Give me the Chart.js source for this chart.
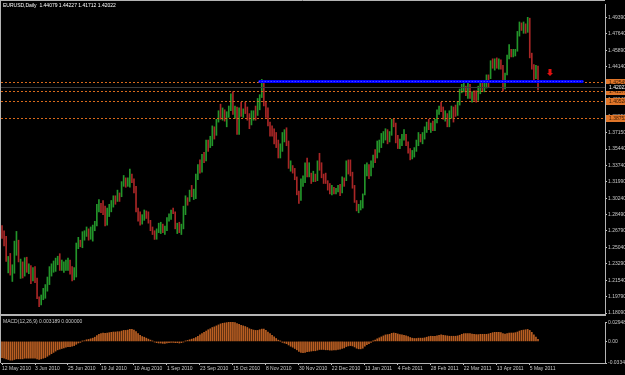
<!DOCTYPE html>
<html>
<head>
<meta charset="utf-8">
<script src="https://cdn.jsdelivr.net/npm/chart.js@4.4.1/dist/chart.umd.min.js"></script>
<style>
  html, body { margin: 0; padding: 0; background: #000; }
  #wrap { position: relative; width: 625px; height: 375px; overflow: hidden; background: #000; }
  canvas { position: absolute; left: 0; }
  #main { top: 0; }
  #macd { top: 318px; }
</style>
</head>
<body>
<div id="wrap">
  <canvas id="main" width="625" height="318"></canvas>
  <canvas id="macd" width="625" height="57"></canvas>
</div>
<script>
// EURUSD daily, 12 May 2010 .. 11 May 2011 (one entry per bar)
const highs = [
  1.2734,1.2680,1.2620,1.2408,1.2440,1.2320,1.2570,1.2673,1.2580,1.2380,
  1.2350,1.2395,1.2400,1.2330,1.2310,1.2290,1.2300,1.2180,1.1980,1.2000,
  1.2070,1.2110,1.2190,1.2300,1.2330,1.2360,1.2390,1.2410,1.2437,1.2370,
  1.2350,1.2370,1.2390,1.2370,1.2300,1.2290,1.2550,1.2610,1.2580,1.2670,
  1.2680,1.2720,1.2700,1.2720,1.2740,1.2780,1.2960,1.3010,1.2970,1.3000,
  1.2940,1.2920,1.2960,1.3000,1.3050,1.3050,1.3110,1.3080,1.3200,1.3265,
  1.3240,1.3240,1.3333,1.3280,1.3230,1.3150,1.2920,1.2880,1.2850,1.2900,
  1.2890,1.2880,1.2790,1.2720,1.2680,1.2700,1.2760,1.2770,1.2750,1.2730,
  1.2820,1.2860,1.2900,1.2920,1.2880,1.2760,1.2770,1.2750,1.2940,1.3050,
  1.3030,1.3110,1.3160,1.3120,1.3280,1.3380,1.3430,1.3490,1.3510,1.3640,
  1.3640,1.3680,1.3790,1.3780,1.3860,1.3950,1.4020,1.3980,1.3960,1.3940,
  1.4000,1.4130,1.4150,1.4000,1.3990,1.3980,1.4040,1.3970,1.4040,1.3990,
  1.3920,1.3950,1.3950,1.4000,1.4080,1.4120,1.4282,1.4240,1.4040,1.3980,
  1.3830,1.3790,1.3760,1.3720,1.3640,1.3600,1.3720,1.3750,1.3770,1.3630,
  1.3420,1.3370,1.3340,1.3250,1.3100,1.3230,1.3260,1.3400,1.3450,1.3400,
  1.3290,1.3310,1.3280,1.3420,1.3500,1.3400,1.3280,1.3290,1.3210,1.3180,
  1.3160,1.3140,1.3130,1.3160,1.3170,1.3250,1.3240,1.3420,1.3430,1.3430,
  1.3300,1.3160,1.3000,1.2960,1.3000,1.3070,1.3380,1.3400,1.3380,1.3420,
  1.3480,1.3540,1.3630,1.3640,1.3710,1.3730,1.3760,1.3750,1.3730,1.3860,
  1.3860,1.3820,1.3690,1.3650,1.3700,1.3750,1.3700,1.3620,1.3550,1.3530,
  1.3560,1.3640,1.3720,1.3700,1.3720,1.3780,1.3830,1.3860,1.3820,1.3840,
  1.3860,1.3960,1.4000,1.4040,1.3990,1.3950,1.3920,1.3950,1.4000,1.3990,
  1.4010,1.4050,1.4180,1.4230,1.4250,1.4210,1.4250,1.4230,1.4150,1.4160,
  1.4160,1.4210,1.4250,1.4250,1.4260,1.4330,1.4330,1.4480,1.4500,1.4500,
  1.4510,1.4500,1.4490,1.4430,1.4350,1.4540,1.4650,1.4600,1.4600,1.4600,
  1.4790,1.4890,1.4880,1.4890,1.4870,1.4939,1.4930,1.4560,1.4440,1.4430,
  1.44227
];
const lows = [
  1.2598,1.2520,1.2356,1.2234,1.2210,1.2143,1.2230,1.2420,1.2350,1.2175,
  1.2180,1.2200,1.2240,1.2225,1.2120,1.2150,1.2130,1.1960,1.1876,1.1895,
  1.1950,1.1965,1.2040,1.2110,1.2200,1.2240,1.2250,1.2320,1.2260,1.2260,
  1.2240,1.2260,1.2260,1.2220,1.2150,1.2160,1.2190,1.2490,1.2510,1.2500,
  1.2580,1.2620,1.2580,1.2590,1.2570,1.2680,1.2730,1.2880,1.2870,1.2850,
  1.2730,1.2740,1.2830,1.2880,1.2930,1.2960,1.2990,1.2990,1.3040,1.3150,
  1.3140,1.3150,1.3140,1.3190,1.3080,1.2880,1.2780,1.2740,1.2750,1.2790,
  1.2810,1.2760,1.2680,1.2640,1.2588,1.2590,1.2660,1.2650,1.2660,1.2640,
  1.2680,1.2780,1.2800,1.2860,1.2700,1.2650,1.2660,1.2640,1.2700,1.2850,
  1.2950,1.2990,1.3040,1.3010,1.3020,1.3220,1.3290,1.3300,1.3400,1.3420,
  1.3520,1.3560,1.3580,1.3650,1.3690,1.3830,1.3860,1.3850,1.3840,1.3780,
  1.3880,1.3950,1.3910,1.3870,1.3700,1.3700,1.3890,1.3880,1.3920,1.3850,
  1.3760,1.3800,1.3850,1.3850,1.3900,1.3960,1.4090,1.4000,1.3880,1.3790,
  1.3680,1.3680,1.3600,1.3560,1.3450,1.3450,1.3520,1.3620,1.3580,1.3340,
  1.3310,1.3290,1.3220,1.3060,1.2968,1.3000,1.3150,1.3190,1.3250,1.3250,
  1.3180,1.3200,1.3200,1.3210,1.3320,1.3240,1.3180,1.3180,1.3110,1.3070,
  1.3060,1.3070,1.3070,1.3090,1.3050,1.3080,1.3150,1.3210,1.3280,1.3260,
  1.3130,1.2980,1.2890,1.2870,1.2900,1.2920,1.3060,1.3260,1.3230,1.3260,
  1.3350,1.3400,1.3450,1.3510,1.3560,1.3610,1.3640,1.3600,1.3620,1.3690,
  1.3780,1.3610,1.3550,1.3550,1.3580,1.3640,1.3580,1.3500,1.3430,1.3440,
  1.3460,1.3520,1.3580,1.3620,1.3600,1.3650,1.3720,1.3750,1.3720,1.3740,
  1.3740,1.3820,1.3910,1.3940,1.3860,1.3840,1.3780,1.3780,1.3870,1.3830,
  1.3890,1.3900,1.4010,1.4140,1.4150,1.4110,1.4080,1.4080,1.4040,1.4060,
  1.4040,1.4060,1.4130,1.4160,1.4150,1.4190,1.4200,1.4290,1.4400,1.4380,
  1.4400,1.4390,1.4390,1.4160,1.4180,1.4330,1.4500,1.4520,1.4520,1.4530,
  1.4580,1.4740,1.4800,1.4770,1.4770,1.4780,1.4510,1.4390,1.4260,1.4290,
  1.41712
];
const closes = [
  1.2640,1.2580,1.2360,1.2370,1.2225,1.2240,1.2490,1.2570,1.2355,1.2365,
  1.2210,1.2370,1.2270,1.2290,1.2225,1.2235,1.2160,1.1970,1.1930,1.1980,
  1.1995,1.2090,1.2110,1.2290,1.2310,1.2340,1.2380,1.2390,1.2280,1.2300,
  1.2320,1.2330,1.2380,1.2230,1.2200,1.2250,1.2520,1.2560,1.2530,1.2640,
  1.2650,1.2700,1.2640,1.2660,1.2730,1.2760,1.2940,1.2950,1.2920,1.2890,
  1.2750,1.2900,1.2930,1.2990,1.3030,1.2990,1.3080,1.3050,1.3180,1.3225,
  1.3160,1.3190,1.3280,1.3225,1.3150,1.2900,1.2810,1.2760,1.2810,1.2860,
  1.2840,1.2780,1.2700,1.2660,1.2620,1.2660,1.2720,1.2750,1.2680,1.2690,
  1.2810,1.2820,1.2890,1.2880,1.2720,1.2730,1.2690,1.2710,1.2920,1.3030,
  1.2990,1.3080,1.3050,1.3090,1.3260,1.3370,1.3310,1.3480,1.3460,1.3620,
  1.3610,1.3630,1.3770,1.3680,1.3850,1.3930,1.3880,1.3950,1.3900,1.3920,
  1.3990,1.4110,1.3960,1.3975,1.3720,1.3960,1.3920,1.3950,1.3930,1.3870,
  1.3790,1.3930,1.3940,1.3880,1.4060,1.4090,1.4210,1.4030,1.3920,1.3800,
  1.3760,1.3710,1.3700,1.3590,1.3490,1.3540,1.3670,1.3680,1.3620,1.3370,
  1.3380,1.3330,1.3240,1.3080,1.3010,1.3200,1.3240,1.3390,1.3260,1.3290,
  1.3240,1.3250,1.3230,1.3400,1.3380,1.3250,1.3230,1.3200,1.3130,1.3090,
  1.3110,1.3100,1.3120,1.3140,1.3090,1.3230,1.3200,1.3380,1.3350,1.3310,
  1.3140,1.3000,1.2910,1.2950,1.2970,1.3060,1.3360,1.3380,1.3300,1.3400,
  1.3460,1.3450,1.3610,1.3620,1.3690,1.3710,1.3740,1.3610,1.3700,1.3840,
  1.3810,1.3640,1.3580,1.3610,1.3680,1.3700,1.3600,1.3530,1.3480,1.3490,
  1.3540,1.3610,1.3700,1.3660,1.3680,1.3760,1.3800,1.3760,1.3800,1.3750,
  1.3840,1.3940,1.3990,1.3970,1.3890,1.3920,1.3800,1.3900,1.3980,1.3970,
  1.3920,1.4030,1.4170,1.4180,1.4220,1.4140,1.4220,1.4100,1.4140,1.4130,
  1.4090,1.4170,1.4230,1.4200,1.4230,1.4310,1.4250,1.4470,1.4420,1.4470,
  1.4440,1.4480,1.4430,1.4230,1.4330,1.4520,1.4620,1.4570,1.4580,1.4590,
  1.4780,1.4870,1.4810,1.4840,1.4820,1.4860,1.4530,1.4400,1.4350,1.4408,
  1.42022
];
const firstOpen = 1.2690;

// MACD(12,26,9) histogram, one value per bar
const macdValues = [
  -0.0250,-0.0260,-0.0270,-0.0280,-0.0290,-0.0290,-0.0280,-0.0270,-0.0270,-0.0270,
  -0.0270,-0.0260,-0.0260,-0.0260,-0.0260,-0.0260,-0.0260,-0.0270,-0.0280,-0.0270,
  -0.0260,-0.0250,-0.0230,-0.0210,-0.0190,-0.0170,-0.0150,-0.0130,-0.0120,-0.0110,
  -0.0100,-0.0090,-0.0080,-0.0080,-0.0075,-0.0065,-0.0045,-0.0025,-0.0015,0.0003,
  0.0010,0.0025,0.0030,0.0040,0.0050,0.0065,0.0090,0.0110,0.0120,0.0130,
  0.0125,0.0130,0.0135,0.0140,0.0145,0.0145,0.0150,0.0150,0.0160,0.0170,
  0.0170,0.0175,0.0185,0.0185,0.0175,0.0150,0.0120,0.0095,0.0075,0.0065,
  0.0050,0.0035,0.0020,0.0005,-0.0010,-0.0020,-0.0025,-0.0025,-0.0030,-0.0030,
  -0.0025,-0.0020,-0.0015,-0.0015,-0.0020,-0.0020,-0.0025,-0.0020,-0.0010,0.0005,
  0.0015,0.0025,0.0035,0.0045,0.0060,0.0080,0.0100,0.0120,0.0140,0.0160,
  0.0180,0.0195,0.0215,0.0225,0.0240,0.0255,0.0270,0.0280,0.0285,0.0290,
  0.0295,0.0300,0.0295,0.0290,0.0275,0.0265,0.0250,0.0240,0.0230,0.0215,
  0.0195,0.0185,0.0175,0.0170,0.0170,0.0180,0.0190,0.0190,0.0170,0.0145,
  0.0120,0.0095,0.0070,0.0045,0.0020,0.0003,-0.0015,-0.0025,-0.0035,-0.0055,
  -0.0075,-0.0090,-0.0110,-0.0130,-0.0155,-0.0170,-0.0175,-0.0170,-0.0160,-0.0155,
  -0.0150,-0.0145,-0.0145,-0.0135,-0.0125,-0.0125,-0.0125,-0.0130,-0.0130,-0.0135,
  -0.0135,-0.0130,-0.0130,-0.0125,-0.0120,-0.0110,-0.0100,-0.0080,-0.0070,-0.0065,
  -0.0070,-0.0085,-0.0105,-0.0115,-0.0115,-0.0105,-0.0075,-0.0050,-0.0035,-0.0015,
  0.0005,0.0020,0.0040,0.0055,0.0070,0.0085,0.0100,0.0105,0.0110,0.0125,
  0.0130,0.0125,0.0115,0.0105,0.0100,0.0095,0.0085,0.0075,0.0060,0.0050,
  0.0045,0.0045,0.0050,0.0050,0.0050,0.0055,0.0065,0.0075,0.0080,0.0080,
  0.0080,0.0085,0.0095,0.0100,0.0095,0.0090,0.0085,0.0080,0.0080,0.0080,
  0.0080,0.0085,0.0095,0.0110,0.0120,0.0120,0.0120,0.0120,0.0115,0.0110,
  0.0105,0.0105,0.0110,0.0110,0.0110,0.0110,0.0115,0.0125,0.0135,0.0140,
  0.0140,0.0140,0.0135,0.0120,0.0115,0.0120,0.0130,0.0130,0.0130,0.0135,
  0.0145,0.0160,0.0170,0.0175,0.0180,0.0185,0.0170,0.0140,0.0100,0.0065,
  0.003189
];

const dateTicks = ['12 May 2010', '3 Jun 2010', '25 Jun 2010', '19 Jul 2010', '10 Aug 2010',
  '1 Sep 2010', '23 Sep 2010', '15 Oct 2010', '8 Nov 2010', '30 Nov 2010', '22 Dec 2010',
  '13 Jan 2011', '4 Feb 2011', '28 Feb 2011', '22 Mar 2011', '13 Apr 2011', '5 May 2011'];
const barsPerDateTick = 16;
const slotCount = 293; // bars + empty shift on the right

const priceTicks = [1.49390, 1.47640, 1.45890, 1.44140, 1.42390, 1.40640, 1.38890, 1.37150,
  1.35440, 1.33740, 1.31990, 1.30240, 1.28490, 1.26790, 1.25040, 1.23290, 1.21540, 1.19790, 1.18090];
const macdTicks = [0.02948, 0, -0.03341];

const levelPrices = [1.42545, 1.41573, 1.40528, 1.38752];
const bidPrice = 1.42022;
const trendPrice = 1.4260, trendFrom = 124.5, trendTo = 282;
const arrowIndex = 266, arrowPrice = 1.4345;

const title = 'EURUSD,Daily  1.44079 1.44227 1.41712 1.42022';
const macdTitle = 'MACD(12,26,9) 0.003189 0.000000';

const upColor = '#23952a', downColor = '#a82626';
const levelColor = '#d86a1c', textColor = '#c8c8c8', frameColor = '#b4b4b4';
const FONT = 'Liberation Sans';

Chart.defaults.font.family = FONT;
Chart.defaults.font.size = 5;

const slots = Array.from({ length: slotCount }, (_, i) => i);
const barColors = closes.map((c, i) => c >= (i ? closes[i - 1] : firstOpen) ? upColor : downColor);

function hline(ctx, x1, y, x2) {
  ctx.beginPath(); ctx.moveTo(x1, y); ctx.lineTo(x2, y); ctx.stroke();
}

const mainOverlay = {
  id: 'mainOverlay',
  afterDraw(chart) {
    const { ctx, chartArea: a, scales: { x, y } } = chart;
    ctx.save();
    // bid line
    ctx.lineWidth = 1;
    ctx.strokeStyle = '#3a3a3a';
    hline(ctx, a.left, Math.round(y.getPixelForValue(bidPrice)) + 0.5, a.right);
    // order levels
    ctx.setLineDash([2, 2]);
    ctx.strokeStyle = levelColor;
    levelPrices.forEach(p => hline(ctx, a.left, Math.round(y.getPixelForValue(p)) + 0.5, a.right));
    ctx.setLineDash([]);
    // horizontal trend line
    const ty = Math.round(y.getPixelForValue(trendPrice)) + 0.5;
    ctx.strokeStyle = '#0000ff';
    ctx.lineWidth = 3;
    hline(ctx, x.getPixelForValue(trendFrom), ty, x.getPixelForValue(trendTo));
    ctx.lineWidth = 1;
    ctx.setLineDash([1, 2]);
    ctx.strokeStyle = '#6a6aff';
    hline(ctx, x.getPixelForValue(trendFrom), ty, x.getPixelForValue(trendTo));
    ctx.setLineDash([]);
    // sell arrow
    const ax = Math.round(x.getPixelForValue(arrowIndex)), ay = Math.round(y.getPixelForValue(arrowPrice));
    ctx.fillStyle = '#e01010';
    ctx.beginPath();
    ctx.moveTo(ax - 1.5, ay - 4); ctx.lineTo(ax + 1.5, ay - 4); ctx.lineTo(ax + 1.5, ay);
    ctx.lineTo(ax + 3, ay); ctx.lineTo(ax, ay + 3); ctx.lineTo(ax - 3, ay); ctx.lineTo(ax - 1.5, ay);
    ctx.closePath(); ctx.fill();
    // frame
    ctx.strokeStyle = frameColor;
    hline(ctx, 0, 0.5, a.right);
    ctx.beginPath(); ctx.moveTo(0.5, 0); ctx.lineTo(0.5, 318); ctx.stroke();
    ctx.lineWidth = 2;
    hline(ctx, 0, a.bottom + 1, a.right + 1);
    ctx.lineWidth = 1;
    // price boxes on the axis
    ctx.font = '5px ' + FONT;
    ctx.textBaseline = 'middle';
    ctx.textAlign = 'left';
    levelPrices.forEach(p => {
      const yy = Math.round(y.getPixelForValue(p));
      ctx.fillStyle = '#e0762a';
      ctx.fillRect(a.right + 1, yy - 3, 625 - a.right, 7);
      ctx.fillStyle = '#3a1a00';
      ctx.fillText(p.toFixed(5), a.right + 4, yy + 0.5);
    });
    const by = Math.round(y.getPixelForValue(bidPrice));
    ctx.fillStyle = '#000';
    ctx.fillRect(a.right + 1, by - 3, 625 - a.right, 7);
    ctx.fillStyle = '#ffffff';
    ctx.fillText(bidPrice.toFixed(5), a.right + 4, by + 0.5);
    // title
    ctx.fillStyle = '#ffffff';
    ctx.fillText(title, 3, 5.5);
    ctx.restore();
  }
};

new Chart(document.getElementById('main'), {
  type: 'bar',
  data: {
    labels: slots,
    datasets: [{
      data: highs.map((h, i) => [lows[i], h]),
      backgroundColor: barColors,
      borderWidth: 0,
      barThickness: 1
    }]
  },
  options: {
    responsive: false,
    animation: false,
    events: [],
    devicePixelRatio: 1,
    layout: { padding: { top: 2, bottom: 2, left: 1, right: 0 } },
    plugins: { legend: { display: false }, tooltip: { enabled: false } },
    scales: {
      x: { display: false },
      y: {
        position: 'right',
        min: 1.17987,
        max: 1.50801,
        afterFit: s => { s.width = 20; },
        afterBuildTicks: s => { s.ticks = priceTicks.map(v => ({ value: v })); },
        grid: { drawOnChartArea: false, tickLength: 2, tickColor: textColor },
        border: { color: frameColor },
        ticks: { color: textColor, padding: 1, font: { size: 5 }, callback: v => v.toFixed(5) }
      }
    }
  },
  plugins: [mainOverlay]
});

const macdOverlay = {
  id: 'macdOverlay',
  afterDraw(chart) {
    const { ctx, chartArea: a } = chart;
    ctx.save();
    ctx.strokeStyle = frameColor;
    ctx.lineWidth = 1;
    ctx.beginPath(); ctx.moveTo(0.5, 0); ctx.lineTo(0.5, a.bottom); ctx.stroke();
    ctx.font = '5px ' + FONT;
    ctx.textBaseline = 'middle';
    ctx.fillStyle = textColor;
    ctx.fillText(macdTitle, 3, 4);
    ctx.restore();
  }
};

new Chart(document.getElementById('macd'), {
  type: 'bar',
  data: {
    labels: slots,
    datasets: [{
      data: macdValues,
      backgroundColor: '#b95e22',
      borderWidth: 0,
      barThickness: 1
    }]
  },
  options: {
    responsive: false,
    animation: false,
    events: [],
    devicePixelRatio: 1,
    layout: { padding: { top: 2, bottom: 0, left: 1, right: 0 } },
    plugins: { legend: { display: false }, tooltip: { enabled: false } },
    scales: {
      x: {
        afterFit: s => { s.height = 12; },
        grid: {
          drawOnChartArea: false,
          offset: false,
          tickLength: 2,
          tickColor: c => (c.index % barsPerDateTick === 0 && c.index / barsPerDateTick < dateTicks.length) ? textColor : 'rgba(0,0,0,0)'
        },
        border: { color: frameColor },
        ticks: {
          autoSkip: false,
          maxRotation: 0,
          minRotation: 0,
          align: 'start',
          padding: 1,
          color: textColor,
          font: { size: 5 },
          callback: (v, i) => (i % barsPerDateTick === 0 && i / barsPerDateTick < dateTicks.length) ? dateTicks[i / barsPerDateTick] : ''
        }
      },
      y: {
        position: 'right',
        min: -0.0334,
        max: 0.0300,
        afterFit: s => { s.width = 20; },
        afterBuildTicks: s => { s.ticks = macdTicks.map(v => ({ value: v })); },
        grid: { drawOnChartArea: false, tickLength: 2, tickColor: textColor },
        border: { color: frameColor },
        ticks: { color: textColor, padding: 1, font: { size: 5 }, callback: v => v === 0 ? '0.00' : v.toFixed(5) }
      }
    }
  },
  plugins: [macdOverlay]
});
</script>
</body>
</html>
